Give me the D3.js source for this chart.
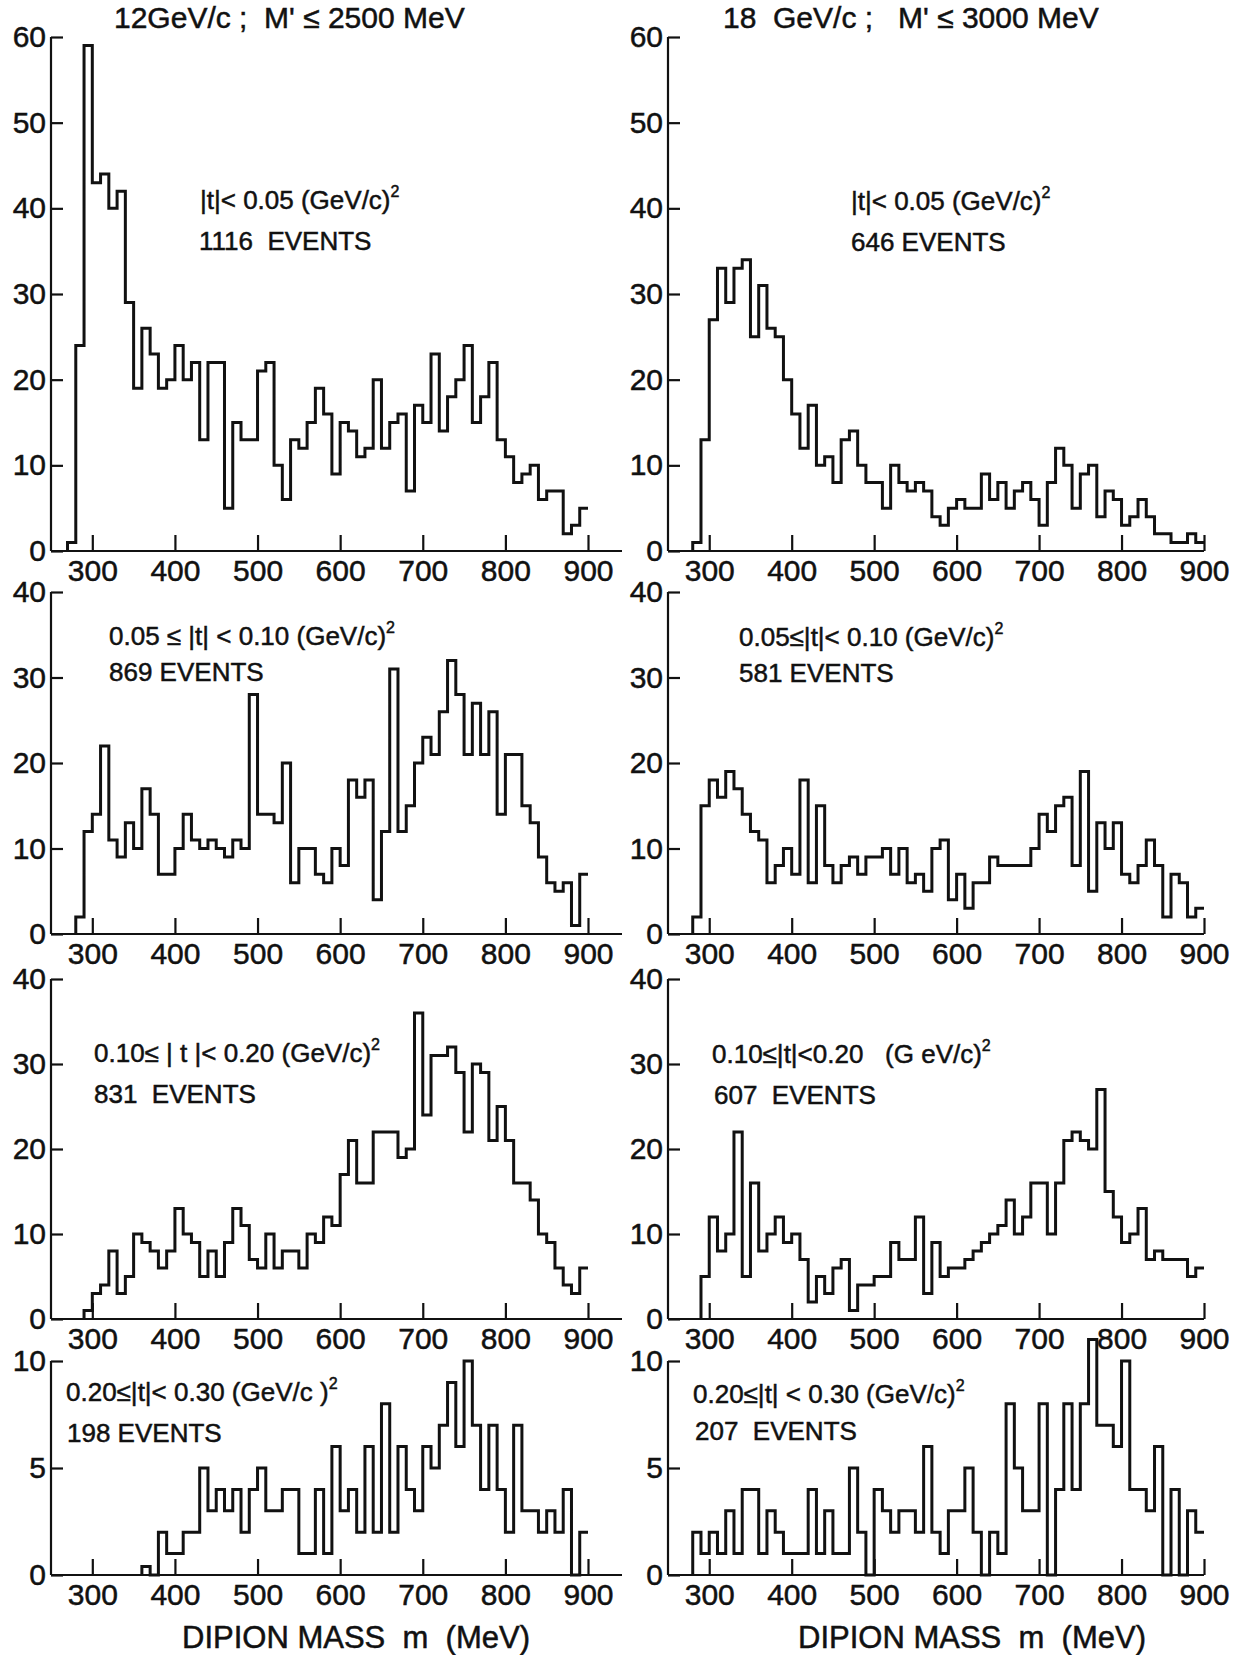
<!DOCTYPE html>
<html>
<head>
<meta charset="utf-8">
<script src="https://cdn.jsdelivr.net/npm/d3@7"></script>
<style>
body { margin: 0; background: #fff; }
text { font-family: "Liberation Sans", Arial, sans-serif; fill: #111; stroke: #111; stroke-width: 0.5px; }
</style>
</head>
<body>
<div id="chart"></div>
<script>

const binWidth = 10;
const massTicks = [300, 400, 500, 600, 700, 800, 900];
const countTicks60 = [0, 10, 20, 30, 40, 50, 60];
const countTicks40 = [0, 10, 20, 30, 40];
const countTicks10 = [0, 5, 10];

const titles = ["12GeV/c ;  M' \u2264 2500 MeV", "18  GeV/c ;   M' \u2264 3000 MeV"];
const xTitle = "DIPION MASS  m  (MeV)";

// 12 GeV/c, |t| < 0.05
const start12a = 270;
const counts12a = [1, 24, 59, 43, 44, 40, 42, 29, 19, 26, 23, 19, 20, 24, 20, 22, 13, 22, 22, 5,
  15, 13, 13, 21, 22, 10, 6, 13, 12, 15, 19, 16, 9, 15, 14, 11, 12, 20, 12, 15,
  16, 7, 17, 15, 23, 14, 18, 20, 24, 15, 18, 22, 13, 11, 8, 9, 10, 6, 7, 7, 2, 3, 5];
// 18 GeV/c, |t| < 0.05
const start18a = 280;
const counts18a = [1, 13, 27, 33, 29, 33, 34, 25, 31, 26, 25, 20, 16, 12, 17, 10, 11, 8, 13, 14,
  10, 8, 8, 5, 10, 8, 7, 8, 7, 4, 3, 5, 6, 5, 5, 9, 6, 8, 5, 7,
  8, 6, 3, 8, 12, 10, 5, 9, 10, 4, 7, 6, 3, 4, 6, 4, 2, 2, 1, 1, 2, 1];
// 12 GeV/c, 0.05 <= |t| < 0.10
const start12b = 280;
const counts12b = [2, 12, 14, 22, 11, 9, 13, 10, 17, 14, 7, 7, 10, 14, 11, 10, 11, 10, 9, 11,
  10, 28, 14, 14, 13, 20, 6, 10, 10, 7, 6, 10, 8, 18, 16, 18, 4, 12, 31, 12,
  15, 20, 23, 21, 26, 32, 28, 21, 27, 21, 26, 14, 21, 21, 15, 13, 9, 6, 5, 6, 1, 7];
// 18 GeV/c, 0.05 <= |t| < 0.10
const start18b = 280;
const counts18b = [2, 15, 18, 16, 19, 17, 14, 12, 11, 6, 8, 10, 7, 18, 6, 15, 8, 6, 8, 9,
  7, 9, 9, 10, 7, 10, 6, 7, 5, 10, 11, 4, 7, 3, 6, 6, 9, 8, 8, 8,
  8, 10, 14, 12, 15, 16, 8, 19, 5, 13, 10, 13, 7, 6, 8, 11, 8, 2, 7, 6, 2, 3];
// 12 GeV/c, 0.10 <= |t| < 0.20
const start12c = 290;
const counts12c = [1, 3, 4, 8, 3, 5, 10, 9, 8, 6, 8, 13, 10, 9, 5, 8, 5, 9, 13, 11,
  7, 6, 10, 6, 8, 8, 6, 10, 9, 12, 11, 17, 21, 16, 16, 22, 22, 22, 19, 20,
  36, 24, 31, 31, 32, 29, 22, 30, 29, 21, 25, 21, 16, 16, 14, 10, 9, 6, 4, 3, 6];
// 18 GeV/c, 0.10 <= |t| < 0.20
const start18c = 290;
const counts18c = [5, 12, 8, 10, 22, 5, 16, 8, 10, 12, 9, 10, 7, 2, 5, 3, 6, 7, 1, 4,
  4, 5, 5, 9, 7, 7, 12, 3, 9, 5, 6, 6, 7, 8, 9, 10, 11, 14, 10, 12,
  16, 16, 10, 16, 21, 22, 21, 20, 27, 15, 12, 9, 10, 13, 7, 8, 7, 7, 7, 5, 6];
// 12 GeV/c, 0.20 <= |t| < 0.30
const start12d = 360;
const counts12d = [0.4, 0, 2, 1, 1, 2, 2, 5, 3, 4, 3, 4, 2, 4, 5, 3, 3, 4, 4, 1,
  1, 4, 1, 6, 3, 4, 2, 6, 2, 8, 2, 6, 4, 3, 6, 5, 7, 9, 6, 10,
  7, 4, 7, 4, 2, 7, 3, 3, 2, 3, 2, 4, 0, 2];
// 18 GeV/c, 0.20 <= |t| < 0.30
const start18d = 280;
const counts18d = [2, 1, 2, 1, 3, 1, 4, 4, 1, 3, 2, 1, 1, 1, 4, 1, 3, 1, 1, 5,
  2, 0, 4, 3, 2, 3, 3, 2, 6, 2, 1, 3, 3, 5, 2, 0, 2, 1, 8, 5,
  3, 3, 8, 0, 4, 8, 4, 8, 11, 7, 7, 6, 10, 4, 4, 3, 6, 0, 4, 0, 3, 2];

const cutLabels = ["|t|< 0.05 (GeV/c)", "|t|< 0.05 (GeV/c)",
  "0.05 \u2264 |t| < 0.10 (GeV/c)", "0.05\u2264|t|< 0.10 (GeV/c)",
  "0.10\u2264 | t |< 0.20 (GeV/c)", "0.10\u2264|t|<0.20   (G eV/c)",
  "0.20\u2264|t|< 0.30 (GeV/c )", "0.20\u2264|t| < 0.30 (GeV/c)"];
const eventLabels = ["1116  EVENTS", "646 EVENTS", "869 EVENTS", "581 EVENTS",
  "831  EVENTS", "607  EVENTS", "198 EVENTS", "207  EVENTS"];

// layout
const cols = [
  {axisX: 51, x900: 588, xEnd: 622},
  {axisX: 668, x900: 1204, xEnd: 1204}
];
const rows = [
  {base: 551, top: 37, max: 60, ticks: countTicks60},
  {base: 934, top: 592, max: 40, ticks: countTicks40},
  {base: 1319, top: 979, max: 40, ticks: countTicks40},
  {base: 1575, top: 1361, max: 10, ticks: countTicks10}
];

const panels = [
  {row: 0, col: 0, start: start12a, counts: counts12a, cut: [200, 209], ev: [199, 250]},
  {row: 0, col: 1, start: start18a, counts: counts18a, cut: [851, 210], ev: [851, 251]},
  {row: 1, col: 0, start: start12b, counts: counts12b, cut: [109, 645], ev: [109, 681]},
  {row: 1, col: 1, start: start18b, counts: counts18b, cut: [739, 646], ev: [739, 682]},
  {row: 2, col: 0, start: start12c, counts: counts12c, cut: [94, 1062], ev: [94, 1103]},
  {row: 2, col: 1, start: start18c, counts: counts18c, cut: [712, 1063], ev: [714, 1104]},
  {row: 3, col: 0, start: start12d, counts: counts12d, cut: [66, 1401], ev: [67, 1442]},
  {row: 3, col: 1, start: start18d, counts: counts18d, cut: [693, 1403], ev: [695, 1440]}
];

const svg = d3.select("#chart").append("svg")
  .attr("width", 1244)
  .attr("height", 1655);

panels.forEach(function (p, i) {
  const c = cols[p.col], r = rows[p.row];
  const x = d3.scaleLinear().domain([250, 900]).range([c.axisX, c.x900]);
  const y = d3.scaleLinear().domain([0, r.max]).range([r.base, r.top]);

  // x axis, ticks pointing up
  const gx = svg.append("g")
    .attr("transform", "translate(0," + r.base + ")")
    .call(d3.axisBottom(x).tickValues(massTicks).tickSize(-16).tickPadding(9).tickFormat(d3.format("d")));
  gx.select(".domain").remove();
  gx.append("line")
    .attr("x1", c.axisX).attr("x2", c.xEnd)
    .attr("stroke", "#111").attr("stroke-width", 2.2);

  // y axis, ticks pointing right
  const gy = svg.append("g")
    .attr("transform", "translate(" + c.axisX + ",0)")
    .call(d3.axisLeft(y).tickValues(r.ticks).tickSize(-12).tickPadding(5).tickFormat(d3.format("d")));
  gy.select(".domain").remove();
  gy.append("line")
    .attr("y1", r.top).attr("y2", r.base)
    .attr("stroke", "#111").attr("stroke-width", 2.2);

  [gx, gy].forEach(function (g) {
    g.attr("font-size", 30).attr("font-family", "Liberation Sans, Arial, sans-serif");
    g.selectAll(".tick line").attr("stroke", "#111").attr("stroke-width", 2.2);
    g.selectAll(".tick text").attr("fill", "#111");
  });

  // histogram outline
  const pts = [[p.start, 0]];
  p.counts.forEach(function (v, k) {
    const m = p.start + k * binWidth;
    pts.push([m, v], [m + binWidth, v]);
  });
  const line = d3.line().x(d => x(d[0])).y(d => y(d[1]));
  svg.append("path")
    .attr("d", line(pts))
    .attr("fill", "none")
    .attr("stroke", "#111")
    .attr("stroke-width", 3)
    .attr("stroke-linejoin", "miter");

  // annotations
  const t = svg.append("text")
    .attr("x", p.cut[0]).attr("y", p.cut[1])
    .attr("font-size", 26)
    .style("white-space", "pre")
    .text(cutLabels[i]);
  t.append("tspan").attr("dy", -12).attr("font-size", 16).text("2");

  svg.append("text")
    .attr("x", p.ev[0]).attr("y", p.ev[1])
    .attr("font-size", 26)
    .style("white-space", "pre")
    .text(eventLabels[i]);
});

// column titles
svg.append("text").attr("x", 114).attr("y", 28).attr("font-size", 30)
  .style("white-space", "pre").text(titles[0]);
svg.append("text").attr("x", 723).attr("y", 28).attr("font-size", 30)
  .style("white-space", "pre").text(titles[1]);

// x axis titles
[356, 972].forEach(function (cx) {
  svg.append("text").attr("x", cx).attr("y", 1648)
    .attr("text-anchor", "middle").attr("font-size", 31)
    .style("white-space", "pre").text(xTitle);
});

</script>
</body>
</html>
